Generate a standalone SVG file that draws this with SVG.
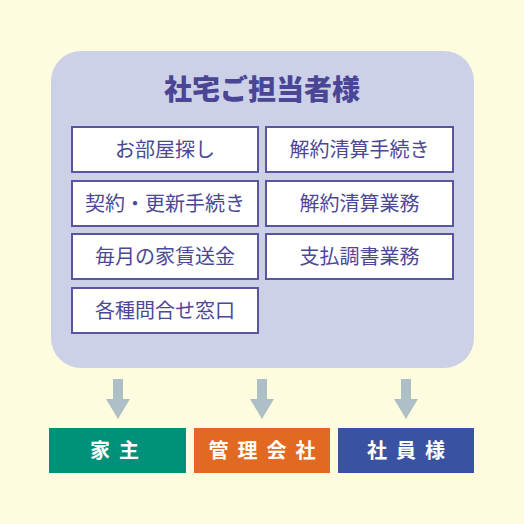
<svg xmlns="http://www.w3.org/2000/svg" width="524" height="524" viewBox="0 0 524 524">
<style>
.t{font-family:"Noto Sans CJK JP","Noto Sans CJK SC",sans-serif;text-anchor:middle}
.box rect{fill:#fff;stroke:#5b54a3;stroke-width:2}
.box text{font-size:20px;fill:#4d4894}
.dest text{font-size:20px;font-weight:bold;fill:#fff;letter-spacing:9px}
.arr{fill:#afbfc8}
</style>
<rect width="524" height="524" fill="#fefcdf"/>
<g id="main">
<rect x="51" y="51" width="423" height="317" rx="30" fill="#cdd1e8"/>
<text class="t" x="262" y="100" font-size="28" font-weight="900" fill="#4a4695">社宅ご担当者様</text>
</g>
<g id="n1" class="box"><rect x="72" y="127" width="186" height="45"/><text class="t" x="165" y="156.5">お部屋探し</text></g>
<g id="n2" class="box"><rect x="266" y="127" width="187" height="45"/><text class="t" x="359.5" y="156.5">解約清算手続き</text></g>
<g id="n3" class="box"><rect x="72" y="181" width="186" height="45"/><text class="t" x="165" y="210.5">契約・更新手続き</text></g>
<g id="n4" class="box"><rect x="266" y="181" width="187" height="45"/><text class="t" x="359.5" y="210.5">解約清算業務</text></g>
<g id="n5" class="box"><rect x="72" y="234" width="186" height="45"/><text class="t" x="165" y="263.5">毎月の家賃送金</text></g>
<g id="n6" class="box"><rect x="266" y="234" width="187" height="45"/><text class="t" x="359.5" y="263.5">支払調書業務</text></g>
<g id="n7" class="box"><rect x="72" y="288" width="186" height="45"/><text class="t" x="165" y="317.5">各種問合せ窓口</text></g>
<g id="connectors">
<polygon class="arr" points="113,379 123,379 123,399 130,399 118,419 106,399 113,399"/>
<polygon class="arr" points="257,379 267,379 267,399 274,399 262,419 250,399 257,399"/>
<polygon class="arr" points="401,379 411,379 411,399 418,399 406,419 394,399 401,399"/>
</g>
<g id="d1" class="dest"><rect x="49" y="428" width="137" height="45" fill="#00917a"/><text class="t" x="119" y="458">家主</text></g>
<g id="d2" class="dest"><rect x="194" y="428" width="136" height="45" fill="#e26921"/><text class="t" x="266.5" y="458">管理会社</text></g>
<g id="d3" class="dest"><rect x="338" y="428" width="136" height="45" fill="#3a52a2"/><text class="t" x="410.5" y="458">社員様</text></g>
</svg>
